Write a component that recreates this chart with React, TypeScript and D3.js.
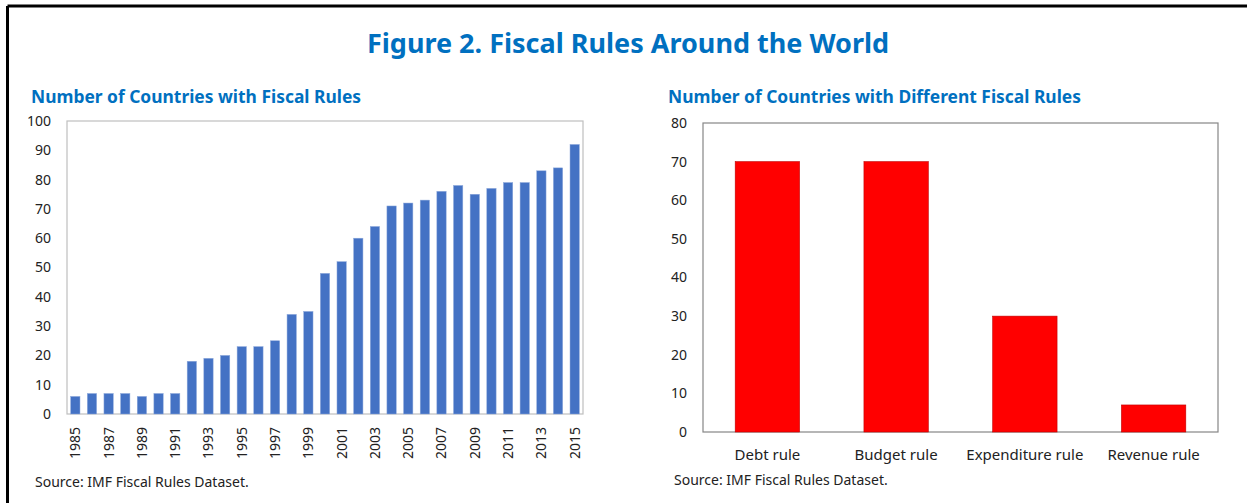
import React from "react";
import * as d3 from "d3";

const years: number[] = [
  1985, 1986, 1987, 1988, 1989, 1990, 1991, 1992, 1993, 1994, 1995, 1996, 1997, 1998, 1999, 2000,
  2001, 2002, 2003, 2004, 2005, 2006, 2007, 2008, 2009, 2010, 2011, 2012, 2013, 2014, 2015,
];
const countries: number[] = [
  6, 7, 7, 7, 6, 7, 7, 18, 19, 20, 23, 23, 25, 34, 35, 48,
  52, 60, 64, 71, 72, 73, 76, 78, 75, 77, 79, 79, 83, 84, 92,
];
const leftTicks: number[] = [0, 10, 20, 30, 40, 50, 60, 70, 80, 90, 100];

const ruleTypes: string[] = ["Debt rule", "Budget rule", "Expenditure rule", "Revenue rule"];
const ruleCounts: number[] = [70, 70, 30, 7];
const rightTicks: number[] = [0, 10, 20, 30, 40, 50, 60, 70, 80];

const FONT = "'Noto Sans', 'Open Sans', sans-serif";
const BLUE = "#0070C0";

export default function App() {
  // Left chart
  const L = { x0: 67, x1: 583, y0: 121, y1: 414 };
  const xL = d3.scaleBand<number>().domain(years).range([L.x0, L.x1]).paddingInner(0.44).paddingOuter(0.22);
  const yL = d3.scaleLinear().domain([0, 100]).range([L.y1, L.y0]);

  // Right chart
  const R = { x0: 703, x1: 1218, y0: 123, y1: 432 };
  const xR = d3.scaleBand<string>().domain(ruleTypes).range([R.x0, R.x1]).paddingInner(0.5).paddingOuter(0.25);
  const yR = d3.scaleLinear().domain([0, 80]).range([R.y1, R.y0]);

  return (
    <svg width={1247} height={503} style={{ position: "absolute", left: 0, top: 0, display: "block" }}>
      <rect x={0} y={0} width={1247} height={503} fill="#fff" />
      {/* frame */}
      <line x1={7.5} y1={6} x2={1247} y2={6} stroke="#000" strokeWidth={3} />
      <line x1={7.5} y1={6} x2={7.5} y2={503} stroke="#000" strokeWidth={3} />

      <text x={628} y={53} textAnchor="middle" fontFamily={FONT} fontWeight={700} fontSize={27} fill={BLUE}>
        Figure 2. Fiscal Rules Around the World
      </text>

      {/* Left chart */}
      <text x={31} y={103} fontFamily={FONT} fontWeight={700} fontSize={17.4} fill={BLUE}>
        Number of Countries with Fiscal Rules
      </text>
      <rect x={L.x0} y={L.y0} width={L.x1 - L.x0} height={L.y1 - L.y0} fill="none" stroke="#BFBFBF" strokeWidth={1.2} />
      {leftTicks.map((t) => (
        <text key={t} x={51} y={yL(t)} dy="0.35em" textAnchor="end" fontFamily={FONT} fontSize={14} fill="#222">
          {t}
        </text>
      ))}
      {years.map((yr, i) => (
        <rect
          key={yr}
          x={xL(yr)!}
          y={yL(countries[i])}
          width={xL.bandwidth()}
          height={L.y1 - yL(countries[i])}
          fill="#4472C4"
          stroke="#8FAADC"
          strokeWidth={0.5}
        />
      ))}
      {years.filter((_, i) => i % 2 === 0).map((yr) => {
        const cx = xL(yr)! + xL.bandwidth() / 2;
        return (
          <text
            key={yr}
            transform={`translate(${cx},${427}) rotate(-90)`}
            dy="0.35em"
            textAnchor="end"
            fontFamily={FONT}
            fontSize={14}
            fill="#222"
          >
            {yr}
          </text>
        );
      })}
      <text x={35} y={487} fontFamily={FONT} fontSize={14} fill="#222">
        Source: IMF Fiscal Rules Dataset.
      </text>

      {/* Right chart */}
      <text x={668} y={103} fontFamily={FONT} fontWeight={700} fontSize={17.4} fill={BLUE}>
        Number of Countries with Different Fiscal Rules
      </text>
      <rect x={R.x0} y={R.y0} width={R.x1 - R.x0} height={R.y1 - R.y0} fill="none" stroke="#868686" strokeWidth={1.2} />
      {rightTicks.map((t) => (
        <text key={t} x={687} y={yR(t)} dy="0.35em" textAnchor="end" fontFamily={FONT} fontSize={14} fill="#222">
          {t}
        </text>
      ))}
      {ruleTypes.map((c, i) => (
        <rect
          key={c}
          x={xR(c)!}
          y={yR(ruleCounts[i])}
          width={xR.bandwidth()}
          height={R.y1 - yR(ruleCounts[i])}
          fill="#FF0000"
          stroke="#C00000"
          strokeWidth={0.6}
        />
      ))}
      {ruleTypes.map((c) => (
        <text
          key={c}
          x={xR(c)! + xR.bandwidth() / 2}
          y={460}
          textAnchor="middle"
          fontFamily={FONT}
          fontSize={15}
          fill="#222"
        >
          {c}
        </text>
      ))}
      <text x={674} y={485} fontFamily={FONT} fontSize={14} fill="#222">
        Source: IMF Fiscal Rules Dataset.
      </text>
    </svg>
  );
}
